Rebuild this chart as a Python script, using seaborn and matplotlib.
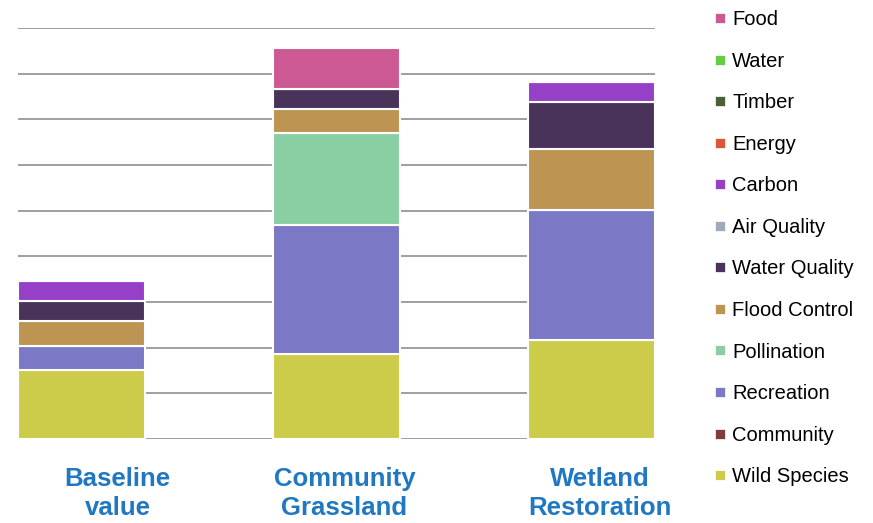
import matplotlib
matplotlib.use("Agg")
import matplotlib.pyplot as plt
import matplotlib.transforms as mtransforms
from matplotlib.lines import Line2D
import seaborn as sns

# Categories (x axis)
categories = ["Baseline\nvalue", "Community\nGrassland", "Wetland\nRestoration"]

# Series, in stacking order (bottom first)
series = ["Wild Species", "Community", "Recreation", "Pollination", "Flood Control",
          "Water Quality", "Air Quality", "Carbon", "Energy", "Timber", "Water", "Food"]

wild_species = [1.51, 1.86, 2.17]
community = [0, 0, 0]
recreation = [0.53, 2.83, 2.85]
pollination = [0, 2.0, 0]
flood_control = [0.55, 0.53, 1.32]
water_quality = [0.44, 0.44, 1.05]
air_quality = [0, 0, 0]
carbon = [0.44, 0, 0.42]
energy = [0, 0, 0]
timber = [0, 0, 0]
water = [0, 0, 0]
food = [0, 0.9, 0]

values = [wild_species, community, recreation, pollination, flood_control,
          water_quality, air_quality, carbon, energy, timber, water, food]

colors = ["#CCCC4A", "#7E3C3A", "#7B78C6", "#8ACFA4", "#BE9452",
          "#4A335A", "#A0AABB", "#9640C8", "#DA5636", "#4A6038", "#66CC44", "#CC5894"]

sns.set_style("white")
plt.rcParams["font.family"] = ["Liberation Sans", "DejaVu Sans"]

fig = plt.figure(figsize=(8.73, 5.23), dpi=100)
ax = fig.add_axes([18 / 873, 84 / 523, 637 / 873, 411 / 523])

# gridlines
for g in range(0, 10):
    ax.axhline(g, color="#8f8f8f", lw=1.2, zorder=0)

bottom = [0, 0, 0]
for name, vals, col in zip(series, values, colors):
    if any(v > 0 for v in vals):
        sns.barplot(x=categories, y=vals, bottom=bottom, color=col, width=0.5,
                    saturation=1, edgecolor="white", linewidth=1.5, ax=ax, zorder=3)
    bottom = [b + v for b, v in zip(bottom, vals)]

ax.set_xlim(-0.25, 2.25)
ax.set_ylim(0, 9)
ax.set_yticks([])
ax.set_ylabel("")
for s in ax.spines.values():
    s.set_visible(False)

ax.tick_params(axis="x", length=0, pad=20)
ax.set_xticks(range(len(categories)))
ax.set_xticklabels(categories, fontsize=18.5, fontweight="bold", color="#1F78C1",
                   linespacing=1.3, va="top")
shifts = [36, 8, 9]
for lbl, dx in zip(ax.get_xticklabels(), shifts):
    lbl.set_transform(lbl.get_transform() + mtransforms.ScaledTranslation(dx / 100, 0, fig.dpi_scale_trans))

# legend (top entry = last stacked series)
handles = [Line2D([0], [0], marker="s", linestyle="", markersize=6.5, markerfacecolor=c,
                  markeredgecolor="white", markeredgewidth=0.5) for c in colors[::-1]]
leg = fig.legend(handles, series[::-1], loc="upper left", bbox_to_anchor=(704 / 873, 1.0),
                 frameon=False, fontsize=14.5, handlelength=0.6, handletextpad=0.3,
                 labelspacing=1.12, borderaxespad=0.0, borderpad=0.5)
for t in leg.get_texts():
    t.set_color("black")

fig.savefig("out.png", dpi=100)
